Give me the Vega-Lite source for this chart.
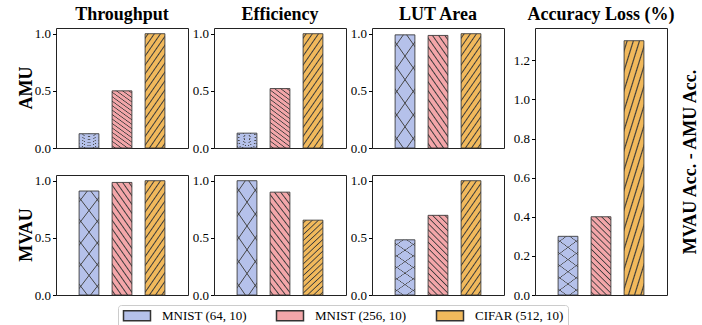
{
  "$schema": "https://vega.github.io/schema/vega-lite/v6.json",
  "background": "white",
  "padding": {"left": 17, "top": 5, "right": 0, "bottom": 0},
  "datasets": {
    "perf": [
      {"design": "AMU", "metric": "Throughput", "cfg": "MNIST (64, 10)", "value": 0.125},
      {"design": "AMU", "metric": "Throughput", "cfg": "MNIST (256, 10)", "value": 0.5},
      {"design": "AMU", "metric": "Throughput", "cfg": "CIFAR (512, 10)", "value": 1.0},
      {"design": "AMU", "metric": "Efficiency", "cfg": "MNIST (64, 10)", "value": 0.13},
      {"design": "AMU", "metric": "Efficiency", "cfg": "MNIST (256, 10)", "value": 0.52},
      {"design": "AMU", "metric": "Efficiency", "cfg": "CIFAR (512, 10)", "value": 1.0},
      {"design": "AMU", "metric": "LUT Area", "cfg": "MNIST (64, 10)", "value": 0.99},
      {"design": "AMU", "metric": "LUT Area", "cfg": "MNIST (256, 10)", "value": 0.985},
      {"design": "AMU", "metric": "LUT Area", "cfg": "CIFAR (512, 10)", "value": 1.0},
      {"design": "MVAU", "metric": "Throughput", "cfg": "MNIST (64, 10)", "value": 0.91},
      {"design": "MVAU", "metric": "Throughput", "cfg": "MNIST (256, 10)", "value": 0.985},
      {"design": "MVAU", "metric": "Throughput", "cfg": "CIFAR (512, 10)", "value": 1.0},
      {"design": "MVAU", "metric": "Efficiency", "cfg": "MNIST (64, 10)", "value": 1.0},
      {"design": "MVAU", "metric": "Efficiency", "cfg": "MNIST (256, 10)", "value": 0.9},
      {"design": "MVAU", "metric": "Efficiency", "cfg": "CIFAR (512, 10)", "value": 0.655},
      {"design": "MVAU", "metric": "LUT Area", "cfg": "MNIST (64, 10)", "value": 0.483},
      {"design": "MVAU", "metric": "LUT Area", "cfg": "MNIST (256, 10)", "value": 0.697},
      {"design": "MVAU", "metric": "LUT Area", "cfg": "CIFAR (512, 10)", "value": 1.0}
    ],
    "acc": [
      {"cfg": "MNIST (64, 10)", "value": 0.3},
      {"cfg": "MNIST (256, 10)", "value": 0.4},
      {"cfg": "CIFAR (512, 10)", "value": 1.3}
    ]
  },
  "config": {
    "font": "Liberation Serif",
    "view": {"stroke": "#222222", "strokeWidth": 1},
    "axis": {"labelFont": "Liberation Serif", "labelFontSize": 13, "labelColor": "#000000", "tickColor": "#000000", "tickSize": 3.5, "labelPadding": 2, "domain": false, "grid": false, "titleFont": "Liberation Serif", "titleColor": "#000000"},
    "header": {"labelFont": "Liberation Serif", "labelFontSize": 18, "labelFontWeight": "bold", "labelColor": "#000000"},
    "title": {"font": "Liberation Serif", "fontSize": 18, "fontWeight": "bold", "color": "#000000"}
  },
  "resolve": {"scale": {"fill": "shared"}, "legend": {"fill": "shared"}},
  "spacing": 7,
  "hconcat": [
    {
      "data": {"name": "perf"},
      "facet": {
        "row": {"field": "design", "type": "nominal", "sort": ["AMU", "MVAU"], "header": {"title": null, "labelAngle": -90, "labelPadding": 11}},
        "column": {"field": "metric", "type": "nominal", "sort": ["Throughput", "Efficiency", "LUT Area"], "header": {"title": null, "labelPadding": 4}}
      },
      "spacing": {"row": 27, "column": 26},
      "bounds": "flush",
      "resolve": {"axis": {"y": "independent"}},
      "spec": {
        "width": 132,
        "height": 120,
        "encoding": {
          "x": {"field": "cfg", "type": "nominal", "sort": ["MNIST (64, 10)", "MNIST (256, 10)", "CIFAR (512, 10)"], "scale": {"paddingInner": 0.4, "paddingOuter": 0.7}, "axis": null},
          "y": {"field": "value", "type": "quantitative", "scale": {"domain": [0, 1.05], "nice": false}, "axis": {"values": [0, 0.5, 1], "format": ".1f", "title": null}}
        },
        "layer": [
          {
            "mark": {"type": "bar", "stroke": "#333333", "strokeWidth": 1, "strokeOpacity": 0.85},
            "encoding": {
              "fill": {"field": "cfg", "type": "nominal", "scale": {"domain": ["MNIST (64, 10)", "MNIST (256, 10)", "CIFAR (512, 10)"], "range": ["#b5c1ea", "#f3a6a9", "#f1b95c"]},
                "legend": {"orient": "none", "legendX": 62, "legendY": 277, "direction": "horizontal", "columns": 3, "title": null, "symbolType": "M-1,-1H4.4V1H-1Z", "symbolSize": 100, "labelOffset": 27, "labelFont": "Liberation Serif", "labelFontSize": 13, "labelColor": "#000000", "columnPadding": 26, "padding": 4, "strokeColor": "#cccccc", "cornerRadius": 3, "fillColor": "#ffffff"}}
            }
          },
          {
            "transform": [{"filter": "datum.cfg === 'CIFAR (512, 10)'"}],
            "mark": {"type": "bar", "fill": {"gradient": "linear", "x1": 0, "y1": 0, "x2": 0.294, "y2": 1.176, "stops": [
              {"offset": 0.019, "color": "rgba(58,58,58,0)"}, {"offset": 0.031, "color": "#3a3a3a"}, {"offset": 0.043, "color": "rgba(58,58,58,0)"},
              {"offset": 0.082, "color": "rgba(58,58,58,0)"}, {"offset": 0.094, "color": "#3a3a3a"}, {"offset": 0.106, "color": "rgba(58,58,58,0)"},
              {"offset": 0.144, "color": "rgba(58,58,58,0)"}, {"offset": 0.156, "color": "#3a3a3a"}, {"offset": 0.168, "color": "rgba(58,58,58,0)"},
              {"offset": 0.207, "color": "rgba(58,58,58,0)"}, {"offset": 0.219, "color": "#3a3a3a"}, {"offset": 0.231, "color": "rgba(58,58,58,0)"},
              {"offset": 0.269, "color": "rgba(58,58,58,0)"}, {"offset": 0.281, "color": "#3a3a3a"}, {"offset": 0.293, "color": "rgba(58,58,58,0)"},
              {"offset": 0.332, "color": "rgba(58,58,58,0)"}, {"offset": 0.344, "color": "#3a3a3a"}, {"offset": 0.356, "color": "rgba(58,58,58,0)"},
              {"offset": 0.394, "color": "rgba(58,58,58,0)"}, {"offset": 0.406, "color": "#3a3a3a"}, {"offset": 0.418, "color": "rgba(58,58,58,0)"},
              {"offset": 0.457, "color": "rgba(58,58,58,0)"}, {"offset": 0.469, "color": "#3a3a3a"}, {"offset": 0.481, "color": "rgba(58,58,58,0)"},
              {"offset": 0.519, "color": "rgba(58,58,58,0)"}, {"offset": 0.531, "color": "#3a3a3a"}, {"offset": 0.543, "color": "rgba(58,58,58,0)"},
              {"offset": 0.582, "color": "rgba(58,58,58,0)"}, {"offset": 0.594, "color": "#3a3a3a"}, {"offset": 0.606, "color": "rgba(58,58,58,0)"},
              {"offset": 0.644, "color": "rgba(58,58,58,0)"}, {"offset": 0.656, "color": "#3a3a3a"}, {"offset": 0.668, "color": "rgba(58,58,58,0)"},
              {"offset": 0.707, "color": "rgba(58,58,58,0)"}, {"offset": 0.719, "color": "#3a3a3a"}, {"offset": 0.731, "color": "rgba(58,58,58,0)"},
              {"offset": 0.769, "color": "rgba(58,58,58,0)"}, {"offset": 0.781, "color": "#3a3a3a"}, {"offset": 0.793, "color": "rgba(58,58,58,0)"},
              {"offset": 0.832, "color": "rgba(58,58,58,0)"}, {"offset": 0.844, "color": "#3a3a3a"}, {"offset": 0.856, "color": "rgba(58,58,58,0)"},
              {"offset": 0.894, "color": "rgba(58,58,58,0)"}, {"offset": 0.906, "color": "#3a3a3a"}, {"offset": 0.918, "color": "rgba(58,58,58,0)"},
              {"offset": 0.957, "color": "rgba(58,58,58,0)"}, {"offset": 0.969, "color": "#3a3a3a"}, {"offset": 0.981, "color": "rgba(58,58,58,0)"}
            ]}}
          },
          {
            "transform": [{"filter": "datum.cfg === 'MNIST (256, 10)'"}],
            "mark": {"type": "bar", "fill": {"gradient": "linear", "x1": 1, "y1": 0, "x2": 0.706, "y2": 1.176, "stops": [
              {"offset": 0.019, "color": "rgba(58,58,58,0)"}, {"offset": 0.031, "color": "#3a3a3a"}, {"offset": 0.043, "color": "rgba(58,58,58,0)"},
              {"offset": 0.082, "color": "rgba(58,58,58,0)"}, {"offset": 0.094, "color": "#3a3a3a"}, {"offset": 0.106, "color": "rgba(58,58,58,0)"},
              {"offset": 0.144, "color": "rgba(58,58,58,0)"}, {"offset": 0.156, "color": "#3a3a3a"}, {"offset": 0.168, "color": "rgba(58,58,58,0)"},
              {"offset": 0.207, "color": "rgba(58,58,58,0)"}, {"offset": 0.219, "color": "#3a3a3a"}, {"offset": 0.231, "color": "rgba(58,58,58,0)"},
              {"offset": 0.269, "color": "rgba(58,58,58,0)"}, {"offset": 0.281, "color": "#3a3a3a"}, {"offset": 0.293, "color": "rgba(58,58,58,0)"},
              {"offset": 0.332, "color": "rgba(58,58,58,0)"}, {"offset": 0.344, "color": "#3a3a3a"}, {"offset": 0.356, "color": "rgba(58,58,58,0)"},
              {"offset": 0.394, "color": "rgba(58,58,58,0)"}, {"offset": 0.406, "color": "#3a3a3a"}, {"offset": 0.418, "color": "rgba(58,58,58,0)"},
              {"offset": 0.457, "color": "rgba(58,58,58,0)"}, {"offset": 0.469, "color": "#3a3a3a"}, {"offset": 0.481, "color": "rgba(58,58,58,0)"},
              {"offset": 0.519, "color": "rgba(58,58,58,0)"}, {"offset": 0.531, "color": "#3a3a3a"}, {"offset": 0.543, "color": "rgba(58,58,58,0)"},
              {"offset": 0.582, "color": "rgba(58,58,58,0)"}, {"offset": 0.594, "color": "#3a3a3a"}, {"offset": 0.606, "color": "rgba(58,58,58,0)"},
              {"offset": 0.644, "color": "rgba(58,58,58,0)"}, {"offset": 0.656, "color": "#3a3a3a"}, {"offset": 0.668, "color": "rgba(58,58,58,0)"},
              {"offset": 0.707, "color": "rgba(58,58,58,0)"}, {"offset": 0.719, "color": "#3a3a3a"}, {"offset": 0.731, "color": "rgba(58,58,58,0)"},
              {"offset": 0.769, "color": "rgba(58,58,58,0)"}, {"offset": 0.781, "color": "#3a3a3a"}, {"offset": 0.793, "color": "rgba(58,58,58,0)"},
              {"offset": 0.832, "color": "rgba(58,58,58,0)"}, {"offset": 0.844, "color": "#3a3a3a"}, {"offset": 0.856, "color": "rgba(58,58,58,0)"},
              {"offset": 0.894, "color": "rgba(58,58,58,0)"}, {"offset": 0.906, "color": "#3a3a3a"}, {"offset": 0.918, "color": "rgba(58,58,58,0)"},
              {"offset": 0.957, "color": "rgba(58,58,58,0)"}, {"offset": 0.969, "color": "#3a3a3a"}, {"offset": 0.981, "color": "rgba(58,58,58,0)"}
            ]}}
          },
          {
            "transform": [{"filter": "datum.cfg === 'MNIST (64, 10)'"}],
            "mark": {"type": "bar", "fill": {"gradient": "linear", "x1": 0, "y1": 0, "x2": 0.294, "y2": 1.176, "stops": [
              {"offset": 0.073, "color": "rgba(68,68,68,0)"}, {"offset": 0.083, "color": "#444444"}, {"offset": 0.093, "color": "rgba(68,68,68,0)"},
              {"offset": 0.24, "color": "rgba(68,68,68,0)"}, {"offset": 0.25, "color": "#444444"}, {"offset": 0.26, "color": "rgba(68,68,68,0)"},
              {"offset": 0.407, "color": "rgba(68,68,68,0)"}, {"offset": 0.417, "color": "#444444"}, {"offset": 0.427, "color": "rgba(68,68,68,0)"},
              {"offset": 0.573, "color": "rgba(68,68,68,0)"}, {"offset": 0.583, "color": "#444444"}, {"offset": 0.593, "color": "rgba(68,68,68,0)"},
              {"offset": 0.74, "color": "rgba(68,68,68,0)"}, {"offset": 0.75, "color": "#444444"}, {"offset": 0.76, "color": "rgba(68,68,68,0)"},
              {"offset": 0.907, "color": "rgba(68,68,68,0)"}, {"offset": 0.917, "color": "#444444"}, {"offset": 0.927, "color": "rgba(68,68,68,0)"}
            ]}}
          },
          {
            "transform": [{"filter": "datum.cfg === 'MNIST (64, 10)'"}],
            "mark": {"type": "bar", "fill": {"gradient": "linear", "x1": 1, "y1": 0, "x2": 0.706, "y2": 1.176, "stops": [
              {"offset": 0.073, "color": "rgba(68,68,68,0)"}, {"offset": 0.083, "color": "#444444"}, {"offset": 0.093, "color": "rgba(68,68,68,0)"},
              {"offset": 0.24, "color": "rgba(68,68,68,0)"}, {"offset": 0.25, "color": "#444444"}, {"offset": 0.26, "color": "rgba(68,68,68,0)"},
              {"offset": 0.407, "color": "rgba(68,68,68,0)"}, {"offset": 0.417, "color": "#444444"}, {"offset": 0.427, "color": "rgba(68,68,68,0)"},
              {"offset": 0.573, "color": "rgba(68,68,68,0)"}, {"offset": 0.583, "color": "#444444"}, {"offset": 0.593, "color": "rgba(68,68,68,0)"},
              {"offset": 0.74, "color": "rgba(68,68,68,0)"}, {"offset": 0.75, "color": "#444444"}, {"offset": 0.76, "color": "rgba(68,68,68,0)"},
              {"offset": 0.907, "color": "rgba(68,68,68,0)"}, {"offset": 0.917, "color": "#444444"}, {"offset": 0.927, "color": "rgba(68,68,68,0)"}
            ]}}
          }
        ]
      }
    },
    {
      "data": {"name": "acc"},
      "width": 132,
      "height": 267,
      "title": {"text": "Accuracy Loss (%)", "offset": 4},
      "resolve": {"axis": {"y": "independent"}},
      "encoding": {
        "x": {"field": "cfg", "type": "nominal", "sort": ["MNIST (64, 10)", "MNIST (256, 10)", "CIFAR (512, 10)"], "scale": {"paddingInner": 0.4, "paddingOuter": 0.7}, "axis": null}
      },
      "layer": [
        {
          "mark": {"type": "bar", "stroke": "#333333", "strokeWidth": 1, "strokeOpacity": 0.85},
          "encoding": {
            "y": {"field": "value", "type": "quantitative", "scale": {"domain": [0, 1.365], "nice": false}, "axis": {"orient": "left", "values": [0, 0.2, 0.4, 0.6, 0.8, 1.0, 1.2], "format": ".1f", "title": null}},
            "fill": {"field": "cfg", "type": "nominal", "scale": {"domain": ["MNIST (64, 10)", "MNIST (256, 10)", "CIFAR (512, 10)"], "range": ["#b5c1ea", "#f3a6a9", "#f1b95c"]},
              "legend": {"orient": "none", "legendX": 62, "legendY": 277, "direction": "horizontal", "columns": 3, "title": null, "symbolType": "M-1,-1H4.4V1H-1Z", "symbolSize": 100, "labelOffset": 27, "labelFont": "Liberation Serif", "labelFontSize": 13, "labelColor": "#000000", "columnPadding": 26, "padding": 4, "strokeColor": "#cccccc", "cornerRadius": 3, "fillColor": "#ffffff"}}
          }
        },
        {
          "mark": {"type": "bar", "opacity": 0},
          "encoding": {
            "y": {"field": "value", "type": "quantitative", "axis": {"orient": "right", "labels": false, "ticks": false, "title": "MVAU Acc. - AMU Acc.", "titleFontSize": 18, "titleFontWeight": "bold", "titleAngle": 270, "titlePadding": 32}}
          }
        },
        {
          "transform": [{"filter": "datum.cfg === 'CIFAR (512, 10)'"}],
          "mark": {"type": "bar", "fill": {"gradient": "linear", "x1": 0, "y1": 0, "x2": 0.294, "y2": 1.176, "stops": [
            {"offset": 0.019, "color": "rgba(58,58,58,0)"}, {"offset": 0.031, "color": "#3a3a3a"}, {"offset": 0.043, "color": "rgba(58,58,58,0)"},
            {"offset": 0.082, "color": "rgba(58,58,58,0)"}, {"offset": 0.094, "color": "#3a3a3a"}, {"offset": 0.106, "color": "rgba(58,58,58,0)"},
            {"offset": 0.144, "color": "rgba(58,58,58,0)"}, {"offset": 0.156, "color": "#3a3a3a"}, {"offset": 0.168, "color": "rgba(58,58,58,0)"},
            {"offset": 0.207, "color": "rgba(58,58,58,0)"}, {"offset": 0.219, "color": "#3a3a3a"}, {"offset": 0.231, "color": "rgba(58,58,58,0)"},
            {"offset": 0.269, "color": "rgba(58,58,58,0)"}, {"offset": 0.281, "color": "#3a3a3a"}, {"offset": 0.293, "color": "rgba(58,58,58,0)"},
            {"offset": 0.332, "color": "rgba(58,58,58,0)"}, {"offset": 0.344, "color": "#3a3a3a"}, {"offset": 0.356, "color": "rgba(58,58,58,0)"},
            {"offset": 0.394, "color": "rgba(58,58,58,0)"}, {"offset": 0.406, "color": "#3a3a3a"}, {"offset": 0.418, "color": "rgba(58,58,58,0)"},
            {"offset": 0.457, "color": "rgba(58,58,58,0)"}, {"offset": 0.469, "color": "#3a3a3a"}, {"offset": 0.481, "color": "rgba(58,58,58,0)"},
            {"offset": 0.519, "color": "rgba(58,58,58,0)"}, {"offset": 0.531, "color": "#3a3a3a"}, {"offset": 0.543, "color": "rgba(58,58,58,0)"},
            {"offset": 0.582, "color": "rgba(58,58,58,0)"}, {"offset": 0.594, "color": "#3a3a3a"}, {"offset": 0.606, "color": "rgba(58,58,58,0)"},
            {"offset": 0.644, "color": "rgba(58,58,58,0)"}, {"offset": 0.656, "color": "#3a3a3a"}, {"offset": 0.668, "color": "rgba(58,58,58,0)"},
            {"offset": 0.707, "color": "rgba(58,58,58,0)"}, {"offset": 0.719, "color": "#3a3a3a"}, {"offset": 0.731, "color": "rgba(58,58,58,0)"},
            {"offset": 0.769, "color": "rgba(58,58,58,0)"}, {"offset": 0.781, "color": "#3a3a3a"}, {"offset": 0.793, "color": "rgba(58,58,58,0)"},
            {"offset": 0.832, "color": "rgba(58,58,58,0)"}, {"offset": 0.844, "color": "#3a3a3a"}, {"offset": 0.856, "color": "rgba(58,58,58,0)"},
            {"offset": 0.894, "color": "rgba(58,58,58,0)"}, {"offset": 0.906, "color": "#3a3a3a"}, {"offset": 0.918, "color": "rgba(58,58,58,0)"},
            {"offset": 0.957, "color": "rgba(58,58,58,0)"}, {"offset": 0.969, "color": "#3a3a3a"}, {"offset": 0.981, "color": "rgba(58,58,58,0)"}
          ]}},
          "encoding": {"y": {"field": "value", "type": "quantitative", "axis": null}}
        },
        {
          "transform": [{"filter": "datum.cfg === 'MNIST (256, 10)'"}],
          "mark": {"type": "bar", "fill": {"gradient": "linear", "x1": 1, "y1": 0, "x2": 0.706, "y2": 1.176, "stops": [
            {"offset": 0.019, "color": "rgba(58,58,58,0)"}, {"offset": 0.031, "color": "#3a3a3a"}, {"offset": 0.043, "color": "rgba(58,58,58,0)"},
            {"offset": 0.082, "color": "rgba(58,58,58,0)"}, {"offset": 0.094, "color": "#3a3a3a"}, {"offset": 0.106, "color": "rgba(58,58,58,0)"},
            {"offset": 0.144, "color": "rgba(58,58,58,0)"}, {"offset": 0.156, "color": "#3a3a3a"}, {"offset": 0.168, "color": "rgba(58,58,58,0)"},
            {"offset": 0.207, "color": "rgba(58,58,58,0)"}, {"offset": 0.219, "color": "#3a3a3a"}, {"offset": 0.231, "color": "rgba(58,58,58,0)"},
            {"offset": 0.269, "color": "rgba(58,58,58,0)"}, {"offset": 0.281, "color": "#3a3a3a"}, {"offset": 0.293, "color": "rgba(58,58,58,0)"},
            {"offset": 0.332, "color": "rgba(58,58,58,0)"}, {"offset": 0.344, "color": "#3a3a3a"}, {"offset": 0.356, "color": "rgba(58,58,58,0)"},
            {"offset": 0.394, "color": "rgba(58,58,58,0)"}, {"offset": 0.406, "color": "#3a3a3a"}, {"offset": 0.418, "color": "rgba(58,58,58,0)"},
            {"offset": 0.457, "color": "rgba(58,58,58,0)"}, {"offset": 0.469, "color": "#3a3a3a"}, {"offset": 0.481, "color": "rgba(58,58,58,0)"},
            {"offset": 0.519, "color": "rgba(58,58,58,0)"}, {"offset": 0.531, "color": "#3a3a3a"}, {"offset": 0.543, "color": "rgba(58,58,58,0)"},
            {"offset": 0.582, "color": "rgba(58,58,58,0)"}, {"offset": 0.594, "color": "#3a3a3a"}, {"offset": 0.606, "color": "rgba(58,58,58,0)"},
            {"offset": 0.644, "color": "rgba(58,58,58,0)"}, {"offset": 0.656, "color": "#3a3a3a"}, {"offset": 0.668, "color": "rgba(58,58,58,0)"},
            {"offset": 0.707, "color": "rgba(58,58,58,0)"}, {"offset": 0.719, "color": "#3a3a3a"}, {"offset": 0.731, "color": "rgba(58,58,58,0)"},
            {"offset": 0.769, "color": "rgba(58,58,58,0)"}, {"offset": 0.781, "color": "#3a3a3a"}, {"offset": 0.793, "color": "rgba(58,58,58,0)"},
            {"offset": 0.832, "color": "rgba(58,58,58,0)"}, {"offset": 0.844, "color": "#3a3a3a"}, {"offset": 0.856, "color": "rgba(58,58,58,0)"},
            {"offset": 0.894, "color": "rgba(58,58,58,0)"}, {"offset": 0.906, "color": "#3a3a3a"}, {"offset": 0.918, "color": "rgba(58,58,58,0)"},
            {"offset": 0.957, "color": "rgba(58,58,58,0)"}, {"offset": 0.969, "color": "#3a3a3a"}, {"offset": 0.981, "color": "rgba(58,58,58,0)"}
          ]}},
          "encoding": {"y": {"field": "value", "type": "quantitative", "axis": null}}
        },
        {
          "transform": [{"filter": "datum.cfg === 'MNIST (64, 10)'"}],
          "mark": {"type": "bar", "fill": {"gradient": "linear", "x1": 0, "y1": 0, "x2": 0.294, "y2": 1.176, "stops": [
            {"offset": 0.073, "color": "rgba(68,68,68,0)"}, {"offset": 0.083, "color": "#444444"}, {"offset": 0.093, "color": "rgba(68,68,68,0)"},
            {"offset": 0.24, "color": "rgba(68,68,68,0)"}, {"offset": 0.25, "color": "#444444"}, {"offset": 0.26, "color": "rgba(68,68,68,0)"},
            {"offset": 0.407, "color": "rgba(68,68,68,0)"}, {"offset": 0.417, "color": "#444444"}, {"offset": 0.427, "color": "rgba(68,68,68,0)"},
            {"offset": 0.573, "color": "rgba(68,68,68,0)"}, {"offset": 0.583, "color": "#444444"}, {"offset": 0.593, "color": "rgba(68,68,68,0)"},
            {"offset": 0.74, "color": "rgba(68,68,68,0)"}, {"offset": 0.75, "color": "#444444"}, {"offset": 0.76, "color": "rgba(68,68,68,0)"},
            {"offset": 0.907, "color": "rgba(68,68,68,0)"}, {"offset": 0.917, "color": "#444444"}, {"offset": 0.927, "color": "rgba(68,68,68,0)"}
          ]}},
          "encoding": {"y": {"field": "value", "type": "quantitative", "axis": null}}
        },
        {
          "transform": [{"filter": "datum.cfg === 'MNIST (64, 10)'"}],
          "mark": {"type": "bar", "fill": {"gradient": "linear", "x1": 1, "y1": 0, "x2": 0.706, "y2": 1.176, "stops": [
            {"offset": 0.073, "color": "rgba(68,68,68,0)"}, {"offset": 0.083, "color": "#444444"}, {"offset": 0.093, "color": "rgba(68,68,68,0)"},
            {"offset": 0.24, "color": "rgba(68,68,68,0)"}, {"offset": 0.25, "color": "#444444"}, {"offset": 0.26, "color": "rgba(68,68,68,0)"},
            {"offset": 0.407, "color": "rgba(68,68,68,0)"}, {"offset": 0.417, "color": "#444444"}, {"offset": 0.427, "color": "rgba(68,68,68,0)"},
            {"offset": 0.573, "color": "rgba(68,68,68,0)"}, {"offset": 0.583, "color": "#444444"}, {"offset": 0.593, "color": "rgba(68,68,68,0)"},
            {"offset": 0.74, "color": "rgba(68,68,68,0)"}, {"offset": 0.75, "color": "#444444"}, {"offset": 0.76, "color": "rgba(68,68,68,0)"},
            {"offset": 0.907, "color": "rgba(68,68,68,0)"}, {"offset": 0.917, "color": "#444444"}, {"offset": 0.927, "color": "rgba(68,68,68,0)"}
          ]}},
          "encoding": {"y": {"field": "value", "type": "quantitative", "axis": null}}
        }
      ]
    }
  ]
}
